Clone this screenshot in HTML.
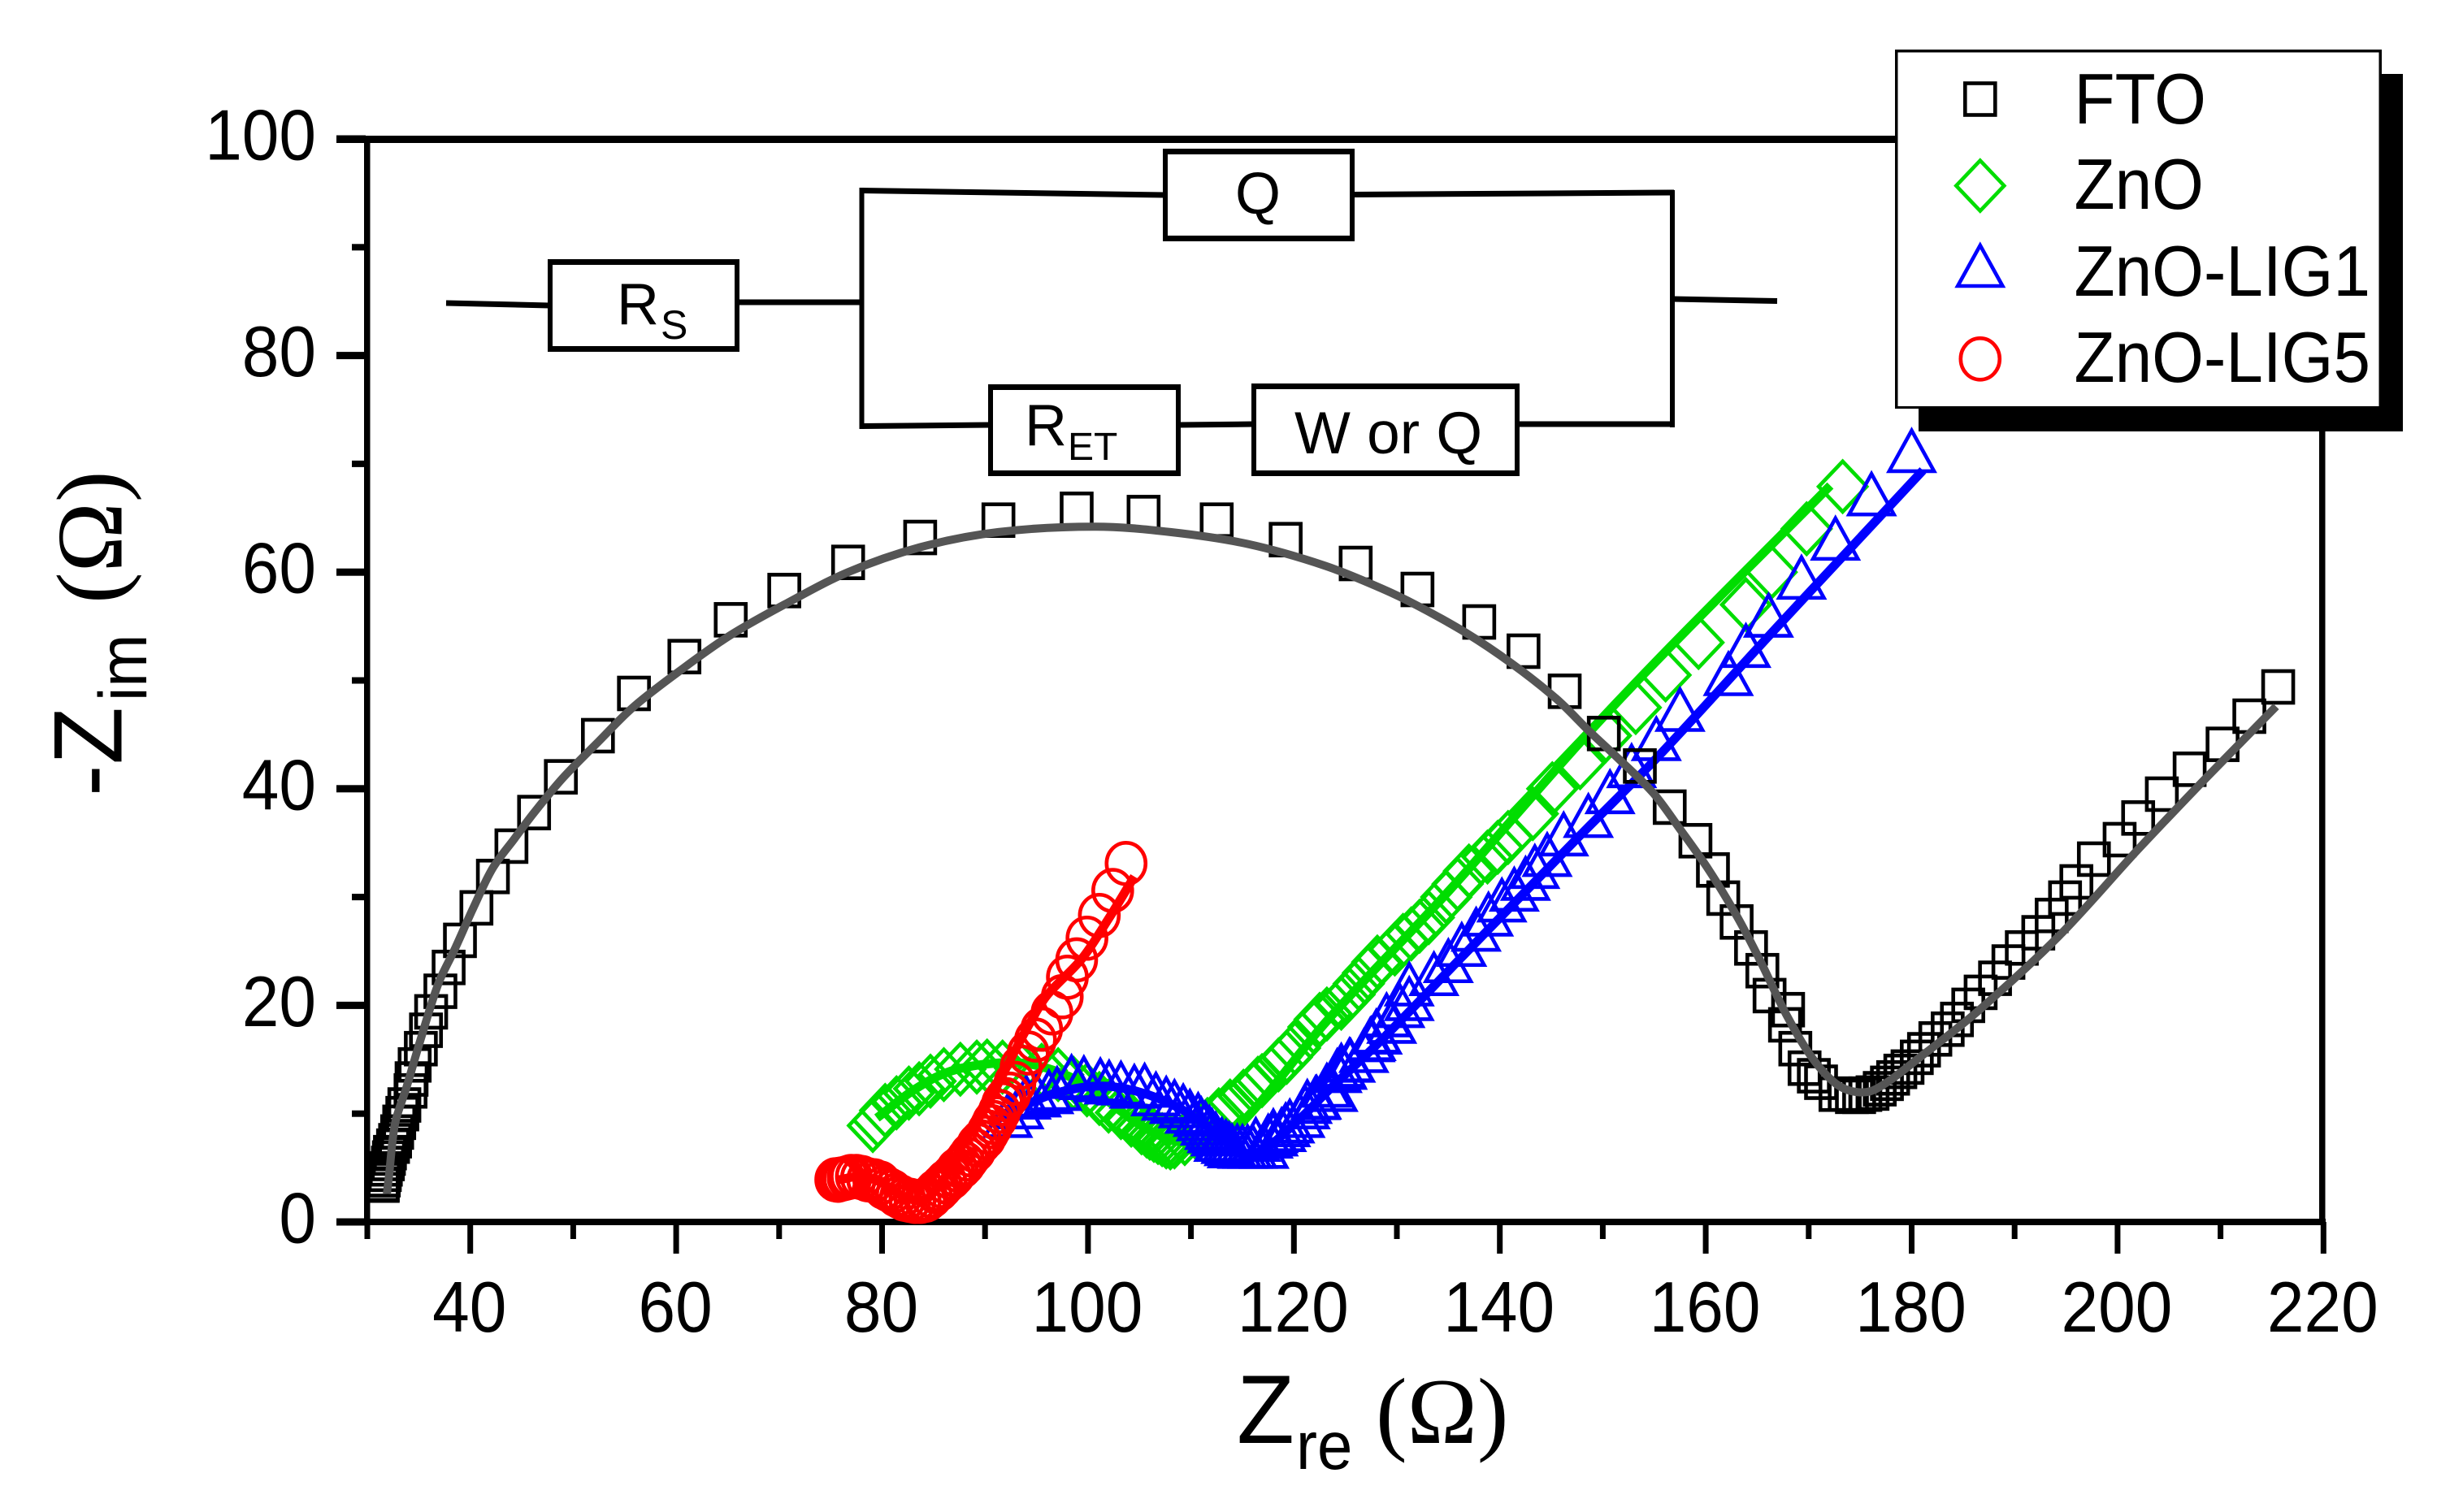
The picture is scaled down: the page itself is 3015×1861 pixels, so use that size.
<!DOCTYPE html>
<html lang="en">
<head>
<meta charset="utf-8">
<title>Nyquist plot of FTO, ZnO, ZnO-LIG1 and ZnO-LIG5</title>
<style>
html,body{margin:0;padding:0;background:#fff;}
svg{display:block;}
text{font-family:"Liberation Sans",sans-serif;fill:#000;}
.serif{font-family:"Liberation Serif",serif;}
</style>
</head>
<body>
<svg id="chart" xmlns="http://www.w3.org/2000/svg" width="3015" height="1861" viewBox="0 0 3015 1861">
  <rect x="0" y="0" width="3015" height="1861" fill="#fff"/>
  <g id="axes"></g>
  <g id="marks"></g>

  <g>
    <text transform="translate(1522,1776) scale(1,1.03)" font-size="116">Z</text>
    <text transform="translate(1595,1808) scale(1,1.07)" font-size="78">re</text>
    <text class="serif" x="1693" y="1776" font-size="116">(Ω)</text>
  </g>
  <g>
    <text transform="translate(149.5,980) rotate(-90) scale(1,1.03)" font-size="116">-</text>
    <text transform="translate(149.5,941) rotate(-90) scale(1,1.03)" font-size="116">Z</text>
    <text transform="translate(180,863) rotate(-90) scale(1,1.07)" font-size="78">im</text>
    <text class="serif" transform="translate(149.5,743) rotate(-90)" font-size="116">(Ω)</text>
  </g>

  <g stroke="#000" fill="none">
    <line x1="549" y1="373" x2="676" y2="376" stroke-width="7"/>
    <line x1="908" y1="372" x2="1060" y2="372" stroke-width="7"/>
    <line x1="1060.5" y1="231" x2="1060.5" y2="528" stroke-width="6"/>
    <line x1="1060" y1="234.5" x2="1433" y2="240" stroke-width="7"/>
    <line x1="1665" y1="239.5" x2="2060" y2="237" stroke-width="7"/>
    <line x1="2058" y1="234" x2="2058" y2="526" stroke-width="6"/>
    <line x1="1060" y1="524.5" x2="1218" y2="523" stroke-width="7"/>
    <line x1="1451" y1="523" x2="1543" y2="522" stroke-width="7"/>
    <line x1="1868" y1="522" x2="2058" y2="522" stroke-width="7"/>
    <line x1="2058" y1="368" x2="2187" y2="370.5" stroke-width="7"/>
  </g>
  <g>
    <rect x="674" y="319" width="236" height="114" fill="#000"/>
    <rect x="680" y="326" width="224" height="100" fill="#fff"/>
    <text x="759" y="399" font-size="72">R</text>
    <text x="813" y="417" font-size="50">S</text>
  </g>
  <g>
    <rect x="1431" y="183" width="236" height="114" fill="#000"/>
    <rect x="1437" y="190" width="224" height="100" fill="#fff"/>
    <text x="1548" y="263" font-size="72" text-anchor="middle">Q</text>
  </g>
  <g>
    <rect x="1216" y="473" width="237" height="113" fill="#000"/>
    <rect x="1222" y="480" width="225" height="99" fill="#fff"/>
    <text x="1261" y="548" font-size="72">R</text>
    <text x="1314" y="566" font-size="48">ET</text>
  </g>
  <g>
    <rect x="1540" y="472" width="330" height="114" fill="#000"/>
    <rect x="1546" y="479" width="318" height="100" fill="#fff"/>
    <text x="1593" y="558" font-size="73">W or Q</text>
  </g>

  <g>
    <rect x="2361" y="91" width="596" height="440" fill="#000"/>
    <rect x="2332" y="61" width="599" height="442" fill="#000"/>
    <rect x="2335.5" y="64.5" width="592" height="435.5" fill="#fff"/>
    <g id="legend-symbols"></g>
    <text transform="translate(2552.5,152) scale(1,1.07)" font-size="82">FTO</text>
    <text transform="translate(2552.5,257) scale(1,1.07)" font-size="82">ZnO</text>
    <text transform="translate(2552.5,364) scale(1,1.07)" font-size="82">ZnO-LIG1</text>
    <text transform="translate(2552.5,470) scale(1,1.07)" font-size="82">ZnO-LIG5</text>
  </g>
</svg>

<script>
/* ---------- data (in axis units) ---------- */
const xMajorTicks = [40,60,80,100,120,140,160,180,200,220];
const xMinorTicks = [30,50,70,90,110,130,150,170,190,210];
const yMajorTicks = [0,20,40,60,80,100];
const yMinorTicks = [10,30,50,70,90];

const ftoX = [31.5,31.5,31.6,31.7,31.8,32,32.1,32.2,32.5,32.7,32.9,33.1,33.4,33.6,34.2,34.3,34.6,35.2,35.7,36.2,37.1,37.9,39,40.6,42.2,44,46.2,48.8,52.4,55.9,60.8,65.3,70.5,76.7,83.7,91.3,98.9,105.4,112.5,119.2,126,132,138,142.3,146.3,150.1,153.6,156.5,159,160.7,161.7,163,164.4,165.5,166.2,168,167.7,168.7,169.6,170.5,171.2,172.6,173.5,174.2,174.9,175.5,176.2,176.9,177.6,178.2,178.9,179.6,180.5,181.2,182.3,183.5,184.4,185.5,186.7,188.1,189.4,190.7,192.3,193.6,194.9,196,197.7,200.2,202,204.3,207,210.2,212.8,215.6];
const ftoY = [3.4,3.5,3.9,4.4,4.9,5.4,5.9,6.4,7,7.5,8.3,9.2,10,10.8,12.1,13.2,14.5,16,17.7,19.4,21.3,23.5,26,29,31.9,34.7,37.8,41.1,44.9,48.8,52.2,55.6,58.3,60.9,63.2,64.8,65.8,65.5,64.8,63,60.8,58.4,55.4,52.7,49,45.1,42.1,38.3,35.2,32.5,29.9,27.7,25.3,23.2,20.9,19.6,18.2,16,14.2,13.5,12.9,11.8,11.8,11.6,11.6,11.8,11.9,12.3,12.8,13.3,13.9,14.3,15.2,15.9,16.9,17.8,18.7,20,21.2,22.5,24,25.3,26.7,28.3,29.9,31.4,33.5,35.3,37.3,39.5,41.8,44.1,46.7,49.4];
const ftoFitX = [31.9,32.1,32.7,33.8,35.1,36.9,38.5,40.3,42.2,44.3,46.2,49,52.4,55.9,60.8,65.3,70.5,76.7,83.7,91.3,100.7,108,115.5,123,128.5,132,136.7,141.1,145.5,148.7,151.5,154.9,157.4,160.3,163.1,165.3,167.8,170.3,172.6,174.6,176.6,181.2,186.6,194.3,202,208.4,215.4];
const ftoFitY = [2.6,4.2,9.1,12.4,16.6,22,25.2,29,32.7,35.4,37.8,41,44.3,47.6,51.2,54.2,57,60,62.3,63.7,64.2,63.7,62.6,60.6,58.5,56.9,54.4,51.6,48.3,45.3,42.8,39.6,36.4,32.5,28.1,24.1,19.2,15.2,12.8,12,12.3,15.5,19.6,26.4,34.4,40.8,47.6];

const znoX = [79.1,79.6,80.3,81.4,82.6,83.6,84.7,86,87.6,89.2,90.2,91.7,93.4,95.5,97.1,98.6,99.9,101.1,102,103.2,104.2,105.2,106,106.8,107.6,108.4,109.4,110.6,111.6,112.7,113.8,115.1,116.1,116.9,118.5,120.1,121.9,123.2,124.6,126.3,128.1,129.8,131.4,133.1,134.8,137,138.8,140.8,143.2,145.1,147.8,150.3,153.2,156.1,159.3,163.9,166.4,169.8,173.3,105.7,106.4,107.2,108,116.5,119.3,122.5,125.4,127.2,130.6,132.2,135.9,139.8];
const znoY = [8.9,9.4,10.3,11,11.9,12.3,13,13.6,14.1,14.3,14.4,14.3,14.2,14,13.6,12.8,12.2,11.4,10.7,10.1,9.4,8.7,8.2,7.8,7.4,7.4,7.7,8.1,9,9.9,10.7,11.6,12.4,13.05,14.5,16.05,18,19.2,20.2,22,24,25.2,26.6,28.1,30,32.4,33.7,35.5,37.7,40,42.4,44.9,47.5,50.5,53.5,57,60,64,67.9,8.4,8,7.6,7.3,12.8,15.2,18.7,21,23,26,27.3,31.2,34.6];
const znoFitX = [79.5,83.1,86.3,90.3,94.2,98,101,105,108,111,113,115.1,123.2,134.8,151.1,172.1];
const znoFitY = [9.6,12.2,13.8,14.6,14.6,13.5,11.8,9,7.6,7.3,8.2,9.3,18.55,30.3,47.7,68];

const lig1X = [92.2,93.3,94,95,96.2,97,98.4,99.6,101.2,102.05,103.2,104.5,105.5,106.6,107.6,108.4,109.25,109.9,110.7,111.4,112.06,112.7,113.4,114,115,116,117.1,118,119.2,119.6,120.6,121.1,122.1,123.8,124.2,124.6,125.4,126.8,127.4,128,129.5,130.3,131.2,131.2,133.6,135,137.7,140.2,142.5,144.6,146.2,148.6,150.7,152.8,155.2,157.5,162.2,163.9,166.1,169.3,172.6,176.1,180,111,111.8,112.4,113,113.7,114.5,115.5,116.3,117.5,118,118.8,121.3,122.2,123.2,124.7,125.5,127.5,128.1,129,136.3,138.9,141.4,143.4];
const lig1Y = [9.2,10,10.9,11.1,11.4,11.7,12.8,12.7,12.5,12.3,12.2,11.9,12,11.2,10.8,10.5,10.1,9.6,9.3,8.5,7.8,7,6.8,6.4,6.35,6.35,6.35,7.5,8.35,8.7,9.2,10,10.85,11.6,13.35,13.85,14.35,15.2,16.2,17,17.9,19.35,20,21.35,22.3,23.5,26.4,29.1,31.1,33.3,35.2,36.9,39.1,41.5,44,46.7,50,52.6,55.4,58.9,62.5,66.6,70.6,8.9,8.1,7.5,7,6.6,6.4,6.35,7,7.3,7.8,7.9,10.5,10.9,12,13.65,14.3,16.3,16.9,18.5,25,27.8,30.1,32.2];
const lig1FitX = [92.5,94.2,96.9,100.9,104.8,108.8,112,114.6,116.7,120.6,123.2,128.5,136.4,139.2,147.6,155.3,166.8,181.1];
const lig1FitY = [10,10.9,11.9,12.55,12.05,10.55,8.5,6.55,6.5,9.55,12,16.8,24.55,27.3,35.5,42.9,54.8,69.4];

const lig5X = [75.5,75.7,76,76.3,76.7,77,77.5,78,78.6,79.2,79.8,80.2,80.6,81,81.4,81.8,82.2,82.7,83.2,83.7,84.2,84.4,84.8,85.2,85.5,85.8,86.2,86.7,87,87.3,87.7,88,88.3,88.6,89,89.3,89.6,90,90.3,90.6,90.8,91.1,91.4,91.7,92,92.4,92.9,93.5,94.2,94.9,95.5,96.5,97.5,98,98.9,99.9,101.1,102.4,103.7];
const lig5Y = [3.9,3.85,3.95,4,4.1,4.2,4.2,4.1,3.9,3.8,3.6,3.2,3,2.8,2.5,2.3,2.1,2,1.9,1.9,2,2.1,2.4,2.8,3,3.3,3.7,4.1,4.4,4.8,5.1,5.4,5.8,6.2,6.6,7.1,7.4,7.8,8.3,8.8,9.2,9.6,10.2,10.9,11.3,11.8,12.8,14.3,15.6,16.8,17.8,19.3,20.8,22.6,24.2,26.2,28.3,30.6,33.1];
const lig5FitX = [75.8,78,80,82,84,85.5,87,88,89.5,90.6,91.3,92.9,94.5,96,99.4,102,104.5];
const lig5FitY = [3.9,4.2,3.6,2.4,2,3.3,5.6,7.5,9.8,11.5,12.8,15.8,18.6,20.9,24.3,28,31.9];

/* ---------- axis functions ---------- */
const SVG_NS = 'http://www.w3.org/2000/svg';
const xScale = function (v) { return 452 + (v - 30) * 12.67; };
const yScale = function (v) { return 1504 - v * 13.33; };

const axes = document.getElementById('axes');
const marks = document.getElementById('marks');
const legendSymbols = document.getElementById('legend-symbols');

function shape(tag, parent) {
  const el = document.createElementNS(SVG_NS, tag);
  parent.appendChild(el);
  return el;
}
function rectLine(x, y, w, h, name) {
  const r = shape('rect', axes);
  r.setAttribute('x', x);
  r.setAttribute('y', y);
  r.setAttribute('width', w);
  r.setAttribute('height', h);
  r.setAttribute('fill', '#000');
  
  
  return r;
}

/* frame */
rectLine(448, 167, 7.5, 1341, 'y-axis-line');
rectLine(414, 167, 2448, 9, 'top-frame-line');
rectLine(2854, 167, 7.5, 1341, 'right-frame-line');
rectLine(414, 1500, 2448, 8, 'x-axis-line');

/* ticks and tick labels */
xMajorTicks.forEach(function (v) {
  rectLine(xScale(v) - 3.5, 1504, 7, 39, 'x-major-tick');
  const t = shape('text', axes);
  t.setAttribute('transform', 'translate(' + (xScale(v) - 1) + ',1639) scale(1,1.07)');
  t.setAttribute('font-size', '82');
  t.setAttribute('text-anchor', 'middle');
  
  
  t.textContent = v;
});
xMinorTicks.forEach(function (v) {
  rectLine(xScale(v) - 3.5, 1504, 7, 21, 'x-minor-tick');
});
yMajorTicks.forEach(function (v) {
  rectLine(414, yScale(v) - 4.5, 36, 9, 'y-major-tick');
  const t = shape('text', axes);
  t.setAttribute('transform', 'translate(389,' + (yScale(v) + 25.5) + ') scale(1,1.07)');
  t.setAttribute('font-size', '82');
  t.setAttribute('text-anchor', 'end');
  
  
  t.textContent = v;
});
yMinorTicks.forEach(function (v) {
  rectLine(433, yScale(v) - 4, 17, 8, 'y-minor-tick');
});

/* symbols */
function squareAt(parent, cx, cy) {
  const s = shape('rect', parent);
  s.setAttribute('x', cx - 18.5);
  s.setAttribute('y', cy - 19.5);
  s.setAttribute('width', 37);
  s.setAttribute('height', 39);
  return s;
}
function diamondAt(parent, cx, cy) {
  const s = shape('polygon', parent);
  s.setAttribute('points', cx + ',' + (cy - 31) + ' ' + (cx + 29.5) + ',' + cy + ' ' + cx + ',' + (cy + 31) + ' ' + (cx - 29.5) + ',' + cy);
  return s;
}
function triangleAt(parent, cx, cy) {
  const s = shape('polygon', parent);
  s.setAttribute('points', cx + ',' + (cy - 33) + ' ' + (cx + 27.6) + ',' + (cy + 17) + ' ' + (cx - 27.6) + ',' + (cy + 17));
  return s;
}
function circleAt(parent, cx, cy) {
  const s = shape('ellipse', parent);
  s.setAttribute('cx', cx);
  s.setAttribute('cy', cy);
  s.setAttribute('rx', 24);
  s.setAttribute('ry', 25.5);
  return s;
}
function seriesGroup(name) {
  const g = shape('g', marks);
  
  
  return g;
}
function drawPoints(group, xs, ys, symbol, color, pointName) {
  xs.forEach(function (x, i) {
    const m = symbol(group, xScale(x), yScale(ys[i]));
    m.setAttribute('fill', 'none');
    m.setAttribute('stroke', color);
    m.setAttribute('stroke-width', '4.6');
    
    
  });
}
/* smooth curve through the fit values, tangent length limited by segment length */
function fitPath(xs, ys) {
  const pts = xs.map(function (x, i) { return [xScale(x), yScale(ys[i])]; });
  function tangent(i) {
    const a = pts[Math.max(i - 1, 0)], b = pts[Math.min(i + 1, pts.length - 1)];
    const dx = b[0] - a[0], dy = b[1] - a[1];
    const len = Math.hypot(dx, dy) || 1;
    return [dx / len, dy / len];
  }
  let d = 'M' + pts[0][0].toFixed(1) + ' ' + pts[0][1].toFixed(1);
  for (let i = 0; i < pts.length - 1; i++) {
    const p = pts[i], q = pts[i + 1];
    const seg = Math.hypot(q[0] - p[0], q[1] - p[1]) / 3;
    const t0 = tangent(i), t1 = tangent(i + 1);
    d += ' C' + (p[0] + t0[0] * seg).toFixed(1) + ' ' + (p[1] + t0[1] * seg).toFixed(1) +
         ' ' + (q[0] - t1[0] * seg).toFixed(1) + ' ' + (q[1] - t1[1] * seg).toFixed(1) +
         ' ' + q[0].toFixed(1) + ' ' + q[1].toFixed(1);
  }
  return d;
}
function drawFit(group, xs, ys, color, width, fitName) {
  const p = shape('path', group);
  p.setAttribute('d', fitPath(xs, ys));
  p.setAttribute('fill', 'none');
  p.setAttribute('stroke', color);
  p.setAttribute('stroke-width', width);
  p.setAttribute('stroke-linejoin', 'round');
  
  
}

const GREEN = '#00dd00', BLUE = '#0000ff', RED = '#ff0000', BLACK = '#000', GRAY = '#555555';

const gZno = seriesGroup('series-zno');
drawPoints(gZno, znoX, znoY, diamondAt, GREEN, 'zno-point');
drawFit(gZno, znoFitX, znoFitY, GREEN, 11, 'zno-fit-line');

const gLig1 = seriesGroup('series-zno-lig1');
drawPoints(gLig1, lig1X, lig1Y, triangleAt, BLUE, 'zno-lig1-point');
drawFit(gLig1, lig1FitX, lig1FitY, BLUE, 11, 'zno-lig1-fit-line');

const gLig5 = seriesGroup('series-zno-lig5');
drawPoints(gLig5, lig5X, lig5Y, circleAt, RED, 'zno-lig5-point');
drawFit(gLig5, lig5FitX, lig5FitY, RED, 11, 'zno-lig5-fit-line');

const gFto = seriesGroup('series-fto');
drawPoints(gFto, ftoX, ftoY, squareAt, BLACK, 'fto-point');
drawFit(gFto, ftoFitX, ftoFitY, GRAY, 10, 'fto-fit-line');

/* legend symbols */
const legendItems = [
  [squareAt, BLACK, 122, 'legend-symbol-fto'],
  [diamondAt, GREEN, 228.6, 'legend-symbol-zno'],
  [triangleAt, BLUE, 335, 'legend-symbol-zno-lig1'],
  [circleAt, RED, 441.8, 'legend-symbol-zno-lig5']
];
legendItems.forEach(function (item) {
  const s = item[0](legendSymbols, 2436.8, item[2]);
  s.setAttribute('fill', 'none');
  s.setAttribute('stroke', item[1]);
  s.setAttribute('stroke-width', '4.6');
  
  
});
</script>
</body>
</html>
